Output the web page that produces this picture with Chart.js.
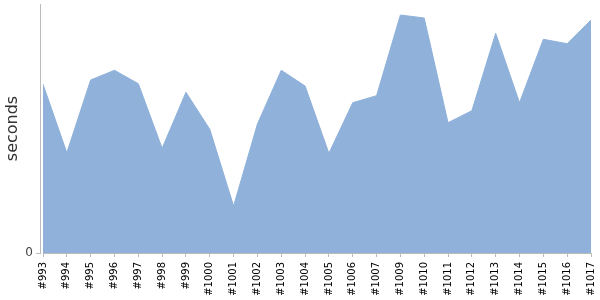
<!DOCTYPE html>
<html>
<head>
<meta charset="utf-8">
<script src="https://cdn.jsdelivr.net/npm/chart.js@4/dist/chart.umd.min.js"></script>
<style>
html,body{margin:0;padding:0;background:#fff;}
#wrap{width:600px;height:300px;}
</style>
</head>
<body>
<div id="wrap"><canvas id="c" width="600" height="300"></canvas></div>
<script>
const categories = ["#993","#994","#995","#996","#997","#998","#999","#1000","#1001","#1002","#1003","#1004","#1005","#1006","#1007","#1009","#1010","#1011","#1012","#1013","#1014","#1015","#1016","#1017"];
const seconds = [168.7,100.3,173,182.7,169.3,104.7,160.7,123.7,47,129,182.7,167,99.7,150.3,157.3,238,235,130.3,142.3,219.7,150.3,213.7,209.3,233];
const yTicks = [0];
const yMax = 249;

const axisColor = '#bbbbbb';
new Chart(document.getElementById('c'), {
  type: 'line',
  data: {
    labels: categories,
    datasets: [{
      data: seconds,
      yAxisID: 'y',
      fill: 'origin',
      backgroundColor: 'rgb(143,177,218)',
      borderColor: 'rgb(143,177,218)',
      borderWidth: 1,
      pointRadius: 0,
      tension: 0
    }]
  },
  options: {
    responsive: false,
    animation: false,
    layout: { padding: { left: 0, right: 9, top: 4, bottom: 0 } },
    plugins: { legend: { display: false }, tooltip: { enabled: false } },
    scales: {
      x: {
        offset: false,
        afterFit: (s) => { s.height = 47; s.paddingLeft = 0; s.paddingRight = 0; },
        grid: { drawOnChartArea: false, drawTicks: true, tickLength: 4, color: axisColor },
        border: { display: true, color: axisColor },
        ticks: { minRotation: 90, maxRotation: 90, autoSkip: false, color: '#000', font: { family: 'DejaVu Sans', size: 10 }, padding: 5 }
      },
      y: {
        position: 'left',
        weight: 1,
        min: 0, max: yMax,
        afterFit: (s) => { s.width = 40; s.paddingTop = 0; s.paddingBottom = 0; },
        grid: { drawOnChartArea: false, drawTicks: true, tickLength: 4, color: axisColor },
        border: { display: true, color: axisColor },
        afterBuildTicks: (axis) => { axis.ticks = yTicks.map(v => ({ value: v })); },
        ticks: { color: '#444', font: { family: 'DejaVu Sans', size: 12 }, padding: 3 },
        title: { display: true, text: 'seconds', color: '#333', font: { family: 'DejaVu Sans', size: 16 }, padding: 3 }
      },
      yPad: {
        type: 'linear',
        position: 'left',
        weight: 0,
        min: 0, max: yMax,
        afterFit: (s) => { s.width = 3; s.paddingTop = 0; s.paddingBottom = 0; },
        grid: { display: false },
        border: { display: false },
        ticks: { display: false }
      }
    }
  }
});
</script>
</body>
</html>
